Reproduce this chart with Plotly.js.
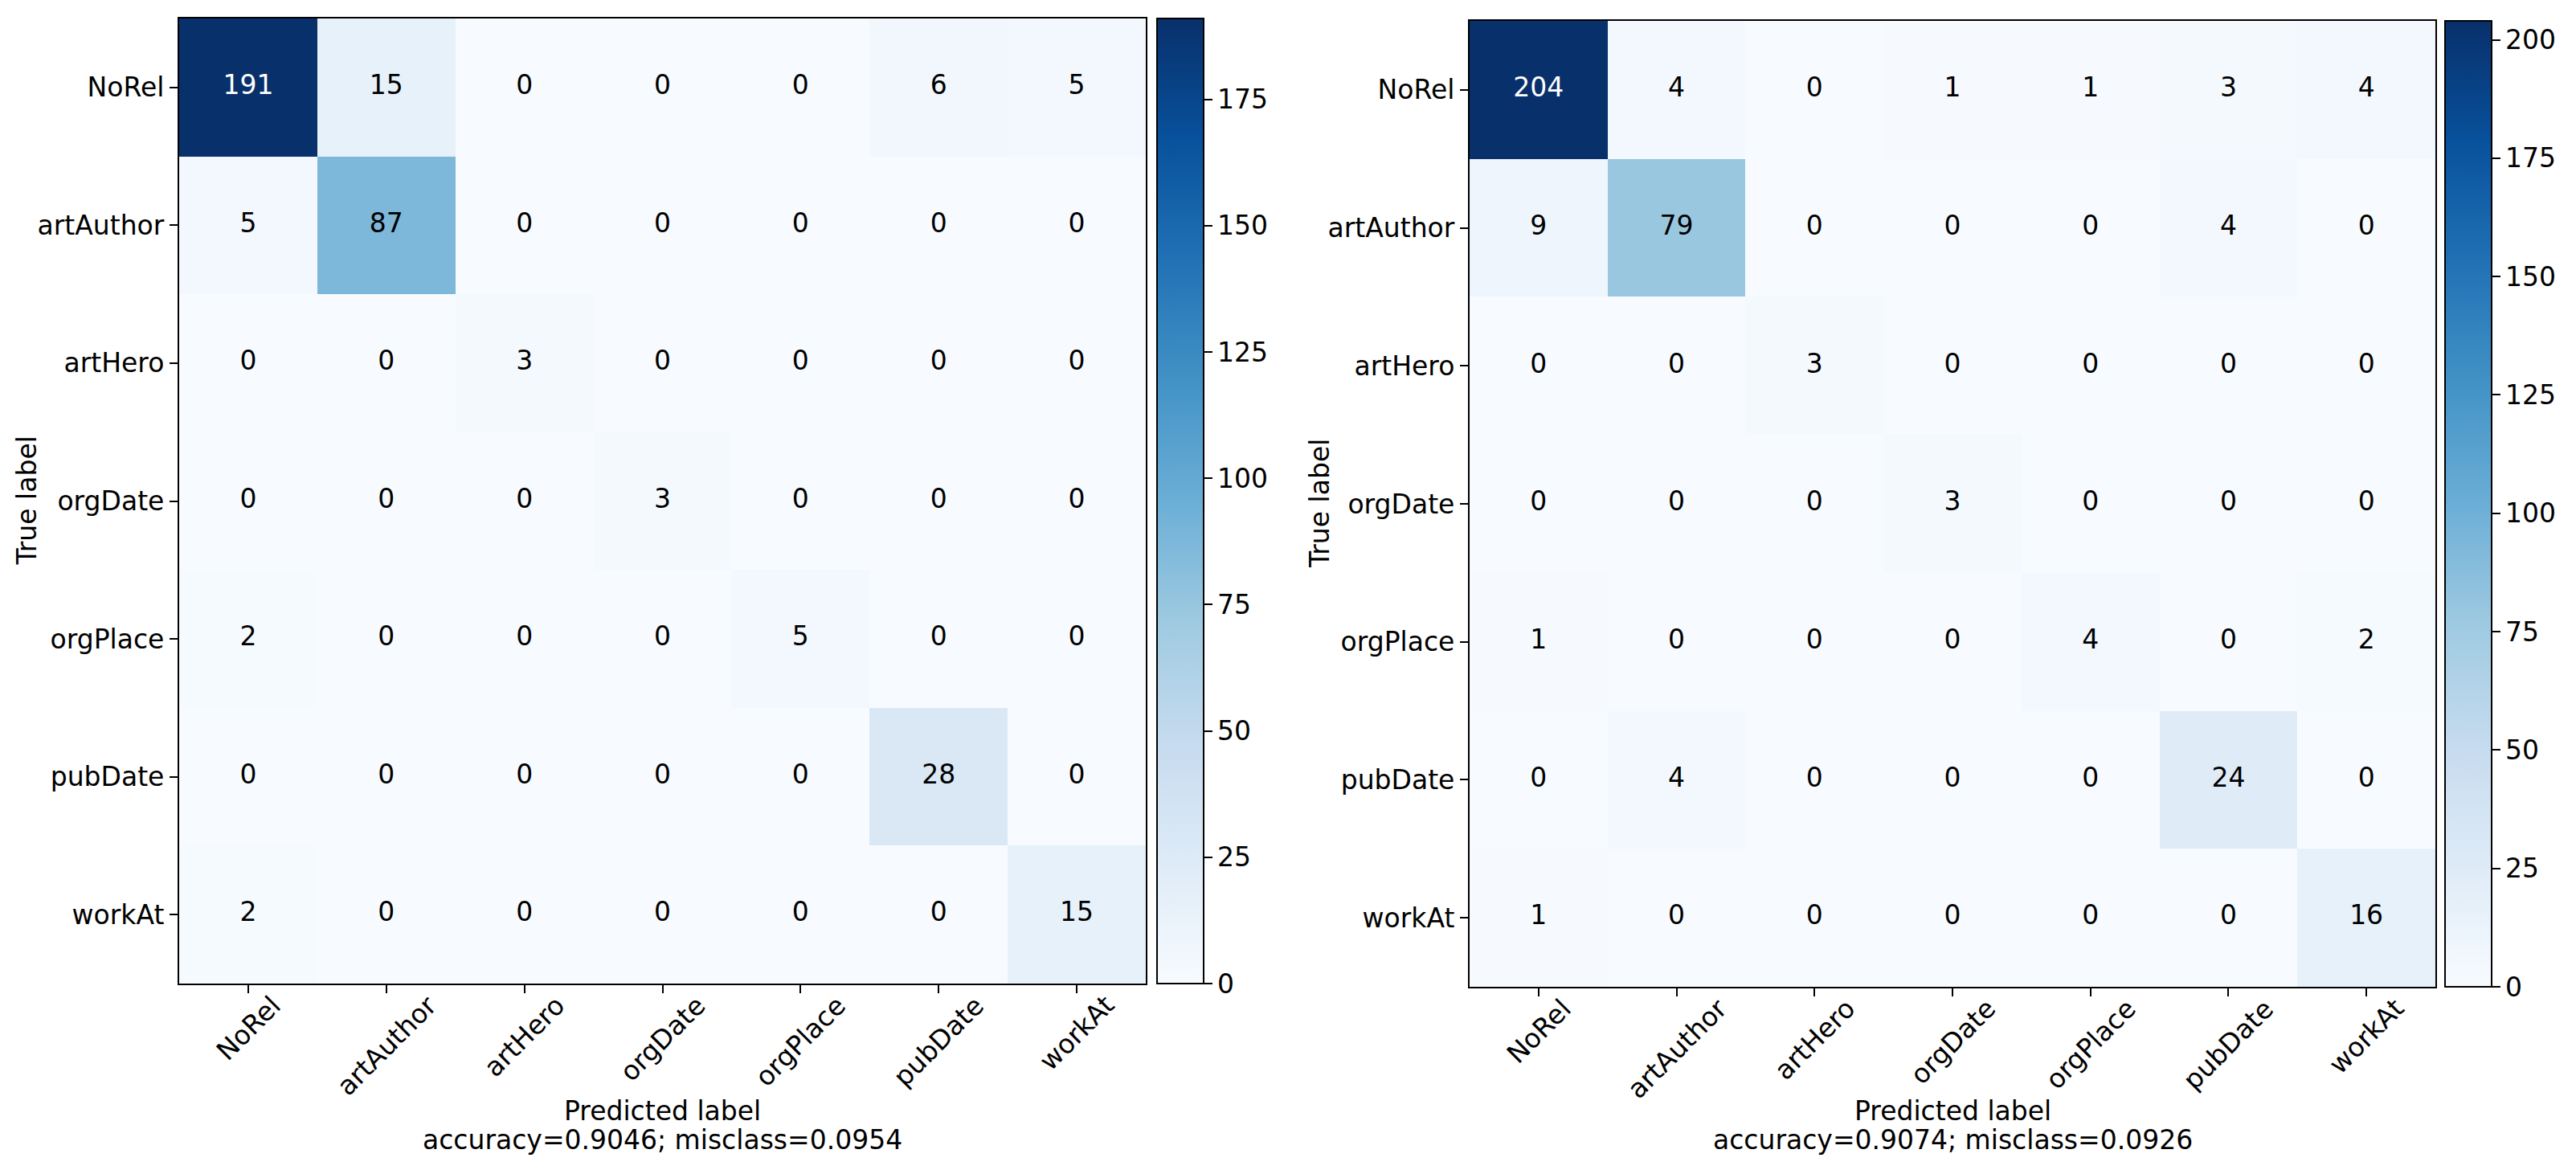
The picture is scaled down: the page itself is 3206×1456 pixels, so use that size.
<!DOCTYPE html>
<html>
<head>
<meta charset="utf-8">
<script src="https://cdn.plot.ly/plotly-3.0.1.min.js"></script>
<style>html,body{margin:0;padding:0;background:#fff;}#chart{width:3206px;height:1456px;}</style>
</head>
<body>
<div id="chart"></div>
<script>
const labels = ["NoRel", "artAuthor", "artHero", "orgDate", "orgPlace", "pubDate", "workAt"];
const matrixLeft = [
  [191, 15, 0, 0, 0, 6, 5],
  [5, 87, 0, 0, 0, 0, 0],
  [0, 0, 3, 0, 0, 0, 0],
  [0, 0, 0, 3, 0, 0, 0],
  [2, 0, 0, 0, 5, 0, 0],
  [0, 0, 0, 0, 0, 28, 0],
  [2, 0, 0, 0, 0, 0, 15]
];
const matrixRight = [
  [204, 4, 0, 1, 1, 3, 4],
  [9, 79, 0, 0, 0, 4, 0],
  [0, 0, 3, 0, 0, 0, 0],
  [0, 0, 0, 3, 0, 0, 0],
  [1, 0, 0, 0, 4, 0, 2],
  [0, 4, 0, 0, 0, 24, 0],
  [1, 0, 0, 0, 0, 0, 16]
];
const xTitle = "Predicted label";
const yTitle = "True label";
const statsLeft = "accuracy=0.9046; misclass=0.0954";
const statsRight = "accuracy=0.9074; misclass=0.0926";
const ticksLeft = [0, 25, 50, 75, 100, 125, 150, 175];
const ticksRight = [0, 25, 50, 75, 100, 125, 150, 175, 200];

const blues = [
  [0.0, "#f7fbff"], [0.125, "#deebf7"], [0.25, "#c6dbef"], [0.375, "#9ecae1"],
  [0.5, "#6baed6"], [0.625, "#4292c6"], [0.75, "#2171b5"], [0.875, "#08519c"], [1.0, "#08306b"]
];
const FONT = "DejaVu Sans, sans-serif";
const FS = 33;

function maxOf(m) { return Math.max(...m.map(r => Math.max(...r))); }

const W = 3206, H = 1456;
const L = {x0: 223, x1: 1426, y0: 23, y1: 1224, ytx: 33};
const R = {x0: 1829, x1: 3031, y0: 26, y1: 1228, ytx: 1642};
function dx(a, b) { return [a / W, b / W]; }
function dy(t, b) { return [1 - b / H, 1 - t / H]; }

function cb(x, ext, ticks) {
  const d = dy(ext.y0, ext.y1);
  return {
    x: x / W, xanchor: "left", xref: "paper",
    y: (d[0] + d[1]) / 2, yanchor: "middle", yref: "paper",
    len: d[1] - d[0], lenmode: "fraction",
    thickness: 58, thicknessmode: "pixels",
    xpad: 0, ypad: 0,
    outlinewidth: 2, outlinecolor: "#000",
    ticks: "outside", ticklen: 10, tickwidth: 2, tickcolor: "#000",
    tickvals: ticks, ticktext: ticks.map(String),
    tickfont: {family: FONT, size: FS, color: "#000"}
  };
}

function textTrace(m, xa, ya) {
  const thresh = maxOf(m) / 2;
  const xs = [], ys = [], ts = [], cs = [];
  m.forEach((row, i) => row.forEach((v, j) => {
    xs.push(labels[j]); ys.push(labels[i]); ts.push(String(v));
    cs.push(v > thresh ? "#ffffff" : "#000000");
  }));
  return {
    type: "scatter", mode: "text", x: xs, y: ys, text: ts,
    textposition: "middle center",
    textfont: {family: FONT, size: FS, color: cs},
    xaxis: xa, yaxis: ya, hoverinfo: "none", showlegend: false
  };
}

const zL = maxOf(matrixLeft), zR = maxOf(matrixRight);
const traces = [
  {
    type: "heatmap", x: labels, y: labels, z: matrixLeft,
    xaxis: "x", yaxis: "y", colorscale: blues, zmin: 0, zmax: zL,
    colorbar: cb(1440, L, ticksLeft), hoverinfo: "none"
  },
  {
    type: "heatmap", x: labels, y: labels, z: matrixRight,
    xaxis: "x2", yaxis: "y2", colorscale: blues, zmin: 0, zmax: zR,
    colorbar: cb(3043, R, ticksRight), hoverinfo: "none"
  },
  textTrace(matrixLeft, "x", "y"),
  textTrace(matrixRight, "x2", "y2")
];

function xax(ext, anchor) {
  return {
    domain: dx(ext.x0, ext.x1), anchor: anchor, type: "category",
    categoryorder: "array", categoryarray: labels,
    range: [-0.5, labels.length - 0.5],
    showticklabels: false,
    ticks: "outside", ticklen: 10, tickwidth: 2, tickcolor: "#000",
    showline: true, linecolor: "#000", linewidth: 2, mirror: true,
    showgrid: false, zeroline: false
  };
}
function yax(ext, anchor) {
  return {
    domain: dy(ext.y0, ext.y1), anchor: anchor, type: "category",
    categoryorder: "array", categoryarray: labels,
    range: [labels.length - 0.5, -0.5],
    ticks: "outside", ticklen: 10, tickwidth: 2, tickcolor: "#000",
    tickfont: {family: FONT, size: FS, color: "#000"},
    showline: true, linecolor: "#000", linewidth: 2, mirror: true,
    showgrid: false, zeroline: false
  };
}

function titles(ext, stats, xref) {
  const base = {yref: "paper", showarrow: false,
    font: {family: FONT, size: FS, color: "#000"}, xanchor: "center", yanchor: "middle"};
  const cx = (ext.x0 + ext.x1) / 2 / W;
  const out = [
    Object.assign({}, base, {xref: "paper", text: xTitle, x: cx, y: 1 - 1382 / H}),
    Object.assign({}, base, {xref: "paper", text: stats, x: cx, y: 1 - 1418 / H}),
    Object.assign({}, base, {xref: "paper", text: yTitle, textangle: -90, x: ext.ytx / W, y: 1 - (ext.y0 + ext.y1) / 2 / H})
  ];
  labels.forEach(lab => out.push(Object.assign({}, base, {
    xref: xref, x: lab, y: 1 - (ext.y1 + 6) / H, yanchor: "top",
    text: lab, textangle: -45, borderpad: 0
  })));
  return out;
}

const layout = {
  width: W, height: H,
  margin: {l: 0, r: 0, t: 0, b: 0},
  paper_bgcolor: "#fff", plot_bgcolor: "#fff",
  showlegend: false,
  font: {family: FONT, size: FS, color: "#000"},
  xaxis: xax(L, "y"),
  yaxis: yax(L, "x"),
  xaxis2: xax(R, "y2"),
  yaxis2: yax(R, "x2"),
  annotations: titles(L, statsLeft, "x").concat(titles(R, statsRight, "x2"))
};

Plotly.newPlot("chart", traces, layout, {staticPlot: true, displayModeBar: false});
</script>
</body>
</html>
